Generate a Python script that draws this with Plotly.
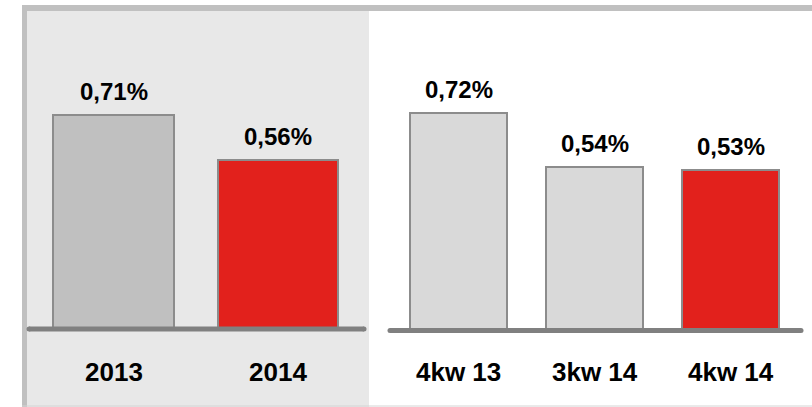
import plotly.graph_objects as go

# Annual comparison (left panel) and quarterly comparison (right panel)
years = ["2013", "2014"]
year_values = [0.71, 0.56]
year_labels = ["0,71%", "0,56%"]

quarters = ["4kw 13", "3kw 14", "4kw 14"]
quarter_values = [0.72, 0.54, 0.53]
quarter_labels = ["0,72%", "0,54%", "0,53%"]

W, H = 812, 407
PX_PER_UNIT = 302.0
BELOW = 0.04  # room under the zero line so the thick baseline is not clipped

GREY_DARK = "#c0c0c0"
GREY_LIGHT = "#d9d9d9"
RED = "#e2211c"
OUTLINE = "#8c8c8c"
AXIS_LINE = "#808080"
PANEL_BG = "#e8e8e8"
FONT = "Liberation Sans, Arial, sans-serif"
VALUE_FONT = dict(family=FONT, size=24, color="black", weight="bold")
CAT_FONT = dict(family=FONT, size=26, color="black", weight="bold")


def px_x(p):
    return p / W


def px_y(p):
    return 1 - p / H


fig = go.Figure()

fig.add_trace(go.Bar(
    x=years, y=year_values,
    marker=dict(color=[GREY_DARK, RED], line=dict(color=OUTLINE, width=2)),
    width=0.73, xaxis="x", yaxis="y", hoverinfo="skip",
))
fig.add_trace(go.Bar(
    x=quarters, y=quarter_values,
    marker=dict(color=[GREY_LIGHT, GREY_LIGHT, RED], line=dict(color=OUTLINE, width=2)),
    width=0.71, xaxis="x2", yaxis="y2", hoverinfo="skip",
))

# pixel geometry of the two panels
left_base, right_base, top = 329.0, 330.5, 11.0
left_x0, left_x1 = 27.0, 369.0
right_x0, right_x1 = 369.0, 812.0
left_step, left_c0 = 164.5, 113.5
right_step, right_c0 = 136.0, 458.5

x_range_left = [-(left_c0 - left_x0) / left_step,
                (left_x1 - left_c0) / left_step]
x_range_right = [-(right_c0 - right_x0) / right_step,
                 (right_x1 - right_c0) / right_step]

axis_common = dict(showgrid=False, zeroline=False, showline=False,
                   showticklabels=False, ticks="", fixedrange=True)

below_px = BELOW * PX_PER_UNIT
fig.update_layout(
    width=W, height=H,
    margin=dict(l=0, r=0, t=0, b=0),
    paper_bgcolor="white", plot_bgcolor="rgba(0,0,0,0)",
    showlegend=False, bargap=0,
    xaxis=dict(domain=[px_x(left_x0), px_x(left_x1)], range=x_range_left,
               type="category", anchor="y", **axis_common),
    yaxis=dict(domain=[px_y(left_base + below_px), px_y(top)],
               range=[-BELOW, (left_base - top) / PX_PER_UNIT], anchor="x", **axis_common),
    xaxis2=dict(domain=[px_x(right_x0), px_x(right_x1)], range=x_range_right,
                type="category", anchor="y2", **axis_common),
    yaxis2=dict(domain=[px_y(right_base + below_px), px_y(top)],
                range=[-BELOW, (right_base - top) / PX_PER_UNIT], anchor="x2", **axis_common),
)

shapes = [
    # shaded background of the annual panel
    dict(type="rect", xref="paper", yref="paper", layer="below",
         x0=px_x(left_x0), x1=px_x(left_x1), y0=px_y(H), y1=px_y(top),
         fillcolor=PANEL_BG, line=dict(width=0)),
    # frame: top bar, left bar, thin bottom rule
    dict(type="rect", xref="paper", yref="paper", layer="below",
         x0=px_x(22), x1=px_x(W), y0=px_y(11), y1=px_y(5),
         fillcolor=GREY_DARK, line=dict(width=0)),
    dict(type="rect", xref="paper", yref="paper", layer="below",
         x0=px_x(22), x1=px_x(27), y0=px_y(H), y1=px_y(5),
         fillcolor=GREY_DARK, line=dict(width=0)),
    dict(type="line", xref="paper", yref="paper", layer="below",
         x0=px_x(22), x1=px_x(W), y0=px_y(406), y1=px_y(406),
         line=dict(color="#d4d4d4", width=1)),
]

# thick baselines with rounded ends
baselines = [("x", "y", 29, 364, left_c0, left_step, left_base),
             ("x2", "y2", 390, 801, right_c0, right_step, right_base)]
for xr, yr, a, b, c0, step, base in baselines:
    shapes.append(dict(type="line", xref=xr, yref=yr, layer="above",
                       x0=(a - c0) / step, x1=(b - c0) / step, y0=0, y1=0,
                       line=dict(color=AXIS_LINE, width=5)))
    for end in (a, b):
        shapes.append(dict(type="circle", xref="paper", yref="paper", layer="above",
                           x0=px_x(end - 2.5), x1=px_x(end + 2.5),
                           y0=px_y(base + 2.5), y1=px_y(base - 2.5),
                           fillcolor=AXIS_LINE, line=dict(width=0)))
fig.update_layout(shapes=shapes)

annotations = []
panels = [("x", "y", years, year_values, year_labels),
          ("x2", "y2", quarters, quarter_values, quarter_labels)]
for xr, yr, cats, vals, labels in panels:
    for i, (cat, val, lab) in enumerate(zip(cats, vals, labels)):
        # value label above each bar
        annotations.append(dict(x=i, xref=xr, y=val, yref=yr, text=lab,
                                showarrow=False, yanchor="bottom", yshift=8,
                                font=VALUE_FONT))
        # category label under the baseline
        annotations.append(dict(x=i, xref=xr, y=px_y(372), yref="paper",
                                text=cat, showarrow=False, yanchor="middle",
                                font=CAT_FONT))
fig.update_layout(annotations=annotations)

fig.write_html("out.html")
